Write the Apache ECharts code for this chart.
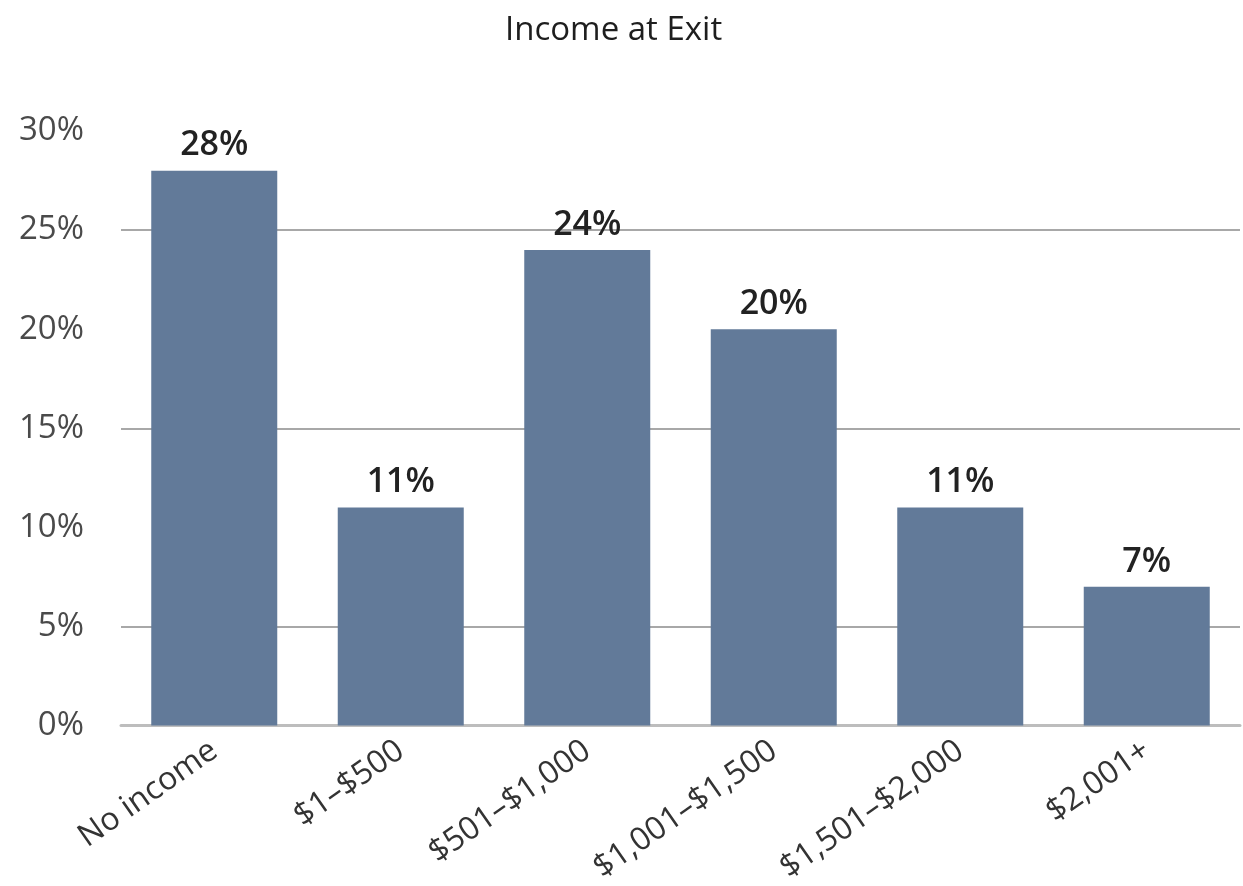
<!DOCTYPE html>
<html><head><meta charset="utf-8">
<script src="https://cdn.jsdelivr.net/npm/echarts@6/dist/echarts.min.js"></script>
<style>html,body{margin:0;padding:0;background:#fff}#c{width:1243px;height:886px}</style>
</head><body><div id="c"></div>
<script>
const categories = ['No income', '$1–$500', '$501–$1,000', '$1,001–$1,500', '$1,501–$2,000', '$2,001+'];
const values = [28, 11, 24, 20, 11, 7];
const titleText = 'Income at Exit';

const chart = echarts.init(document.getElementById('c'), null, {renderer: 'canvas'});
chart.setOption({
  animation: false,
  backgroundColor: '#fff',
  title: {
    text: titleText, left: 500, top: 9,
    textStyle: {fontFamily: 'Open Sans', fontSize: 33, fontWeight: 'normal', color: '#1e1e1e'}
  },
  grid: {left: 121, right: 3, top: 131, bottom: 157, containLabel: false},
  xAxis: {
    type: 'category', data: categories,
    axisLine: {show: true, lineStyle: {color: '#bdbdbd', width: 3}},
    axisTick: {show: false},
    axisLabel: {rotate: 35, margin: 22, fontFamily: 'Open Sans', fontSize: 32, color: '#333'}
  },
  yAxis: {
    type: 'value', min: 0, max: 30, interval: 5,
    axisLine: {show: false}, axisTick: {show: false},
    axisLabel: {formatter: '{value}%', margin: 37, fontFamily: 'Open Sans', fontSize: 33, color: '#4a4a4a'},
    splitLine: {show: true, lineStyle: {color: ['rgba(0,0,0,0)', '#a8a8a8'], width: 2}}
  },
  series: [{
    type: 'bar', data: values, barWidth: 126,
    itemStyle: {color: '#627a99'},
    label: {show: true, position: 'top', distance: 8, formatter: '{c}%',
      fontFamily: 'Open Sans', fontSize: 34, fontWeight: 600, color: '#222'}
  }]
});
</script></body></html>
